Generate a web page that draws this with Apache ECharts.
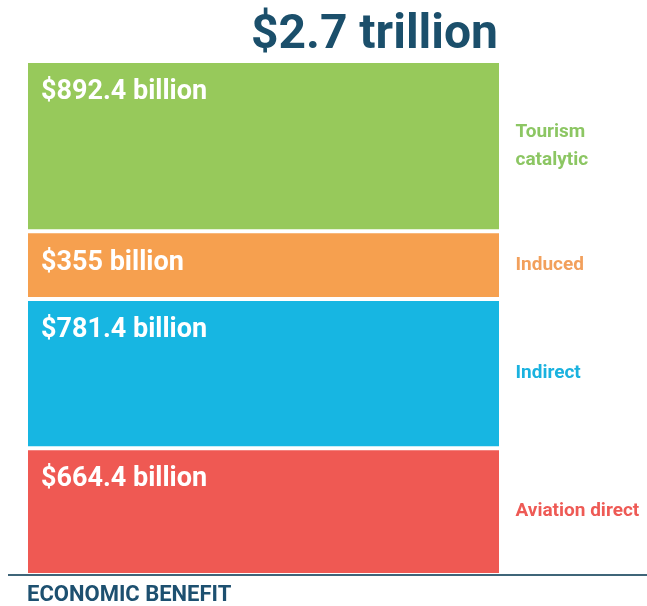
<!DOCTYPE html>
<html>
<head>
<meta charset="utf-8">
<script src="https://cdn.jsdelivr.net/npm/echarts@6/dist/echarts.min.js"></script>
<style>
  html, body { margin: 0; padding: 0; background: #ffffff; }
  #chart { width: 647px; height: 606px; }
</style>
</head>
<body>
<div id="chart"></div>
<script>
// Economic benefit components, in billions of US dollars (stacked bottom to top)
const categories = ['Economic benefit'];
const segmentNames = ['Aviation direct', 'Indirect', 'Induced', 'Tourism\ncatalytic'];
const segmentValues = [664.4, 781.4, 355, 892.4];
const valueLabels = ['$664.4 billion', '$781.4 billion', '$355 billion', '$892.4 billion'];
const segmentColors = ['#ef5953', '#17b6e2', '#f6a04f', '#97c95b'];
const nameColors = ['#ee5a55', '#1ab2df', '#f2a05c', '#8cc663'];

const total = segmentValues.reduce((a, b) => a + b, 0);
const totalText = '$' + (total / 1000).toFixed(1) + ' trillion';

const FONT = 'Roboto, "DejaVu Sans", sans-serif';

const chart = echarts.init(document.getElementById('chart'), null, { renderer: 'canvas' });

let running = 0;
const series = segmentValues.map((v, i) => {
  const mid = running + v / 2;
  running += v;
  return {
    type: 'bar',
    name: segmentNames[i],
    stack: 'benefit',
    barWidth: '100%',
    data: [v],
    itemStyle: { color: segmentColors[i], borderColor: '#ffffff', borderWidth: 2 },
    label: {
      show: true,
      position: 'insideTopLeft',
      distance: 15,
      padding: [3, 0, 0, 0],
      formatter: valueLabels[i],
      color: '#ffffff',
      fontFamily: FONT,
      fontWeight: 'bold',
      fontSize: 27
    },
    markPoint: {
      symbol: 'circle',
      symbolSize: 0,
      silent: true,
      data: [{ coord: [0, mid], value: segmentNames[i] }],
      label: {
        show: true,
        position: 'inside',
        align: 'left',
        verticalAlign: 'middle',
        offset: [252, 0],
        formatter: segmentNames[i],
        color: nameColors[i],
        fontFamily: FONT,
        fontWeight: 'bold',
        fontSize: 19,
        lineHeight: 28
      }
    }
  };
});

chart.setOption({
  animation: false,
  backgroundColor: '#ffffff',
  title: [
    {
      text: totalText,
      right: 144,
      top: 7,
      textStyle: { color: '#1b4f6b', fontFamily: FONT, fontWeight: 'bold', fontSize: 48 }
    },
    {
      text: 'ECONOMIC BENEFIT',
      left: 22,
      top: 579,
      textStyle: { color: '#1d5070', fontFamily: FONT, fontWeight: 'bold', fontSize: 22 }
    }
  ],
  grid: { left: 26, right: 146, top: 61, bottom: 31 },
  xAxis: {
    type: 'category',
    data: categories,
    axisLine: { show: false },
    axisTick: { show: false },
    axisLabel: { show: false }
  },
  yAxis: {
    type: 'value',
    min: 0,
    max: total,
    show: false,
    splitLine: { show: false }
  },
  graphic: [
    {
      type: 'line',
      shape: { x1: 8, y1: 575, x2: 647, y2: 575 },
      style: { stroke: '#3f6579', lineWidth: 2 },
      z: 10
    }
  ],
  series: series
});
</script>
</body>
</html>
